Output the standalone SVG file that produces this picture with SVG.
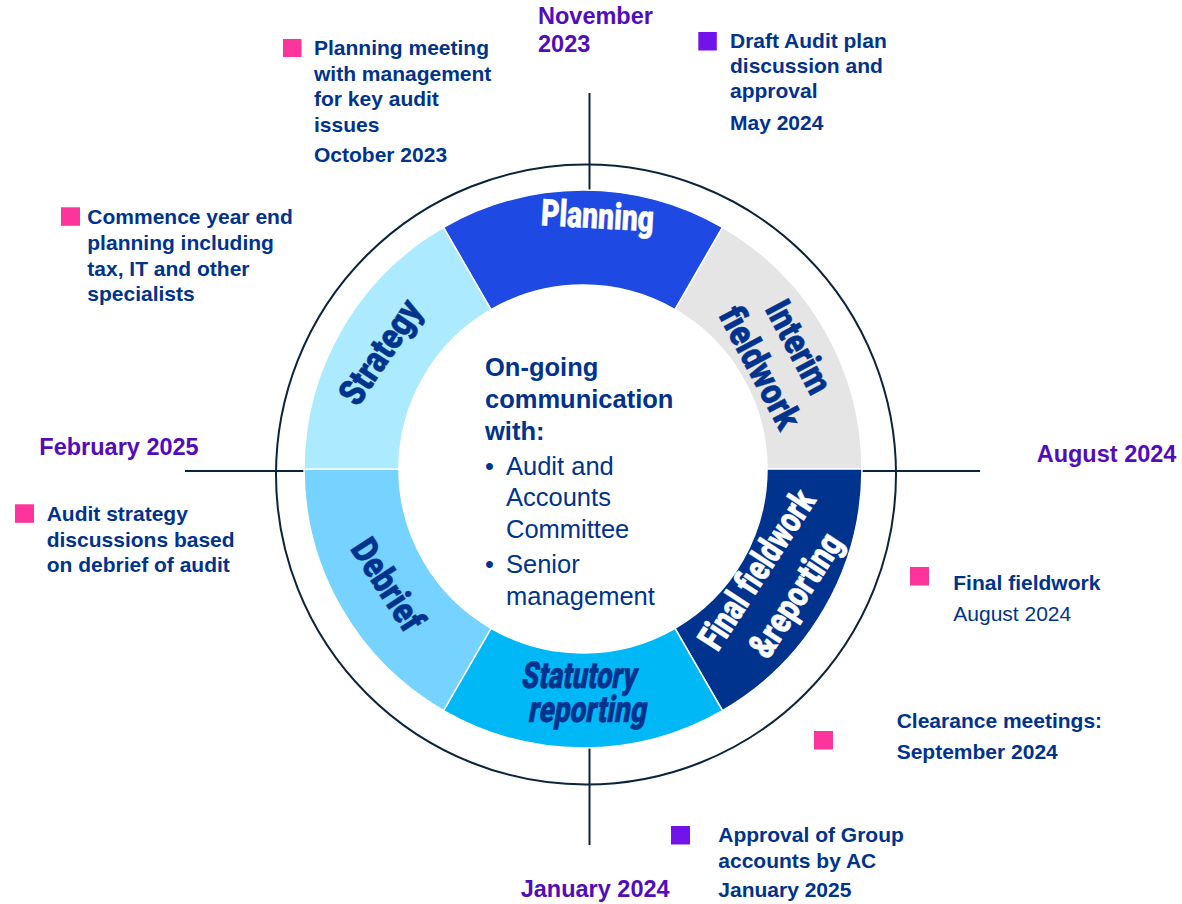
<svg xmlns="http://www.w3.org/2000/svg" width="1182" height="904" viewBox="0 0 1182 904">
  <style>
    .note { font-family: "Liberation Sans", Arial, sans-serif; font-size: 21px; font-weight: bold; fill: #00338D; }
    .note-reg { font-family: "Liberation Sans", Arial, sans-serif; font-size: 21px; fill: #00338D; }
    .date { font-family: "Liberation Sans", Arial, sans-serif; font-size: 23.5px; font-weight: bold; fill: #510DBC; }
    .hub { font-family: "Liberation Sans", Arial, sans-serif; font-size: 25.5px; fill: #00338D; }
    .hub-b { font-weight: bold; }
    .seg-label { font-family: Roboto, "Liberation Sans", sans-serif; font-weight: 900; font-style: normal; font-size: 37px; text-anchor: middle; stroke-width: 0.5; }
    .on-light { fill: #00338D; stroke: #00338D; }
    .on-dark { fill: #FFFFFF; stroke: #FFFFFF; }
    .seg { stroke: #FFFFFF; stroke-width: 1.5; }
    .axis { stroke: #0C233C; stroke-width: 2; fill: none; }
    .pin-pink { fill: #FD349C; }
    .pin-purple { fill: #7213EA; }
  </style>

  <rect width="1182" height="904" fill="#FFFFFF"/>

  <!-- timeline axes and outer ring -->
  <g id="connectors">
    <circle class="axis" cx="586" cy="474.5" r="310"/>
    <line class="axis" x1="589.5" y1="93" x2="589.5" y2="191"/>
    <line class="axis" x1="589.5" y1="747" x2="589.5" y2="845"/>
    <line class="axis" x1="185" y1="471" x2="304" y2="471"/>
    <line class="axis" x1="862" y1="471" x2="980" y2="471"/>
  </g>

  <!-- ring segments, centre (583,469), radii 279 / 184 -->
  <g id="planning">
    <path class="seg" fill="#1E49E2" d="M443.5 227.4 A279 279 0 0 1 722.5 227.4 L675 309.7 A184 184 0 0 0 491 309.7 Z"/>
    <text class="seg-label on-dark" x="583" y="228" textLength="113" lengthAdjust="spacingAndGlyphs" font-size="39" transform="rotate(3.3 583 469)">Planning</text>
  </g>

  <g id="interim-fieldwork">
    <path class="seg" fill="#E5E5E5" d="M722.5 227.4 A279 279 0 0 1 862 469 L767 469 A184 184 0 0 0 675 309.7 Z"/>
    <g transform="translate(778.9 357.5) rotate(62)">
      <text class="seg-label on-light" x="0" y="-10" textLength="100" lengthAdjust="spacingAndGlyphs">Interim</text>
      <text class="seg-label on-light" x="0" y="34" textLength="133" lengthAdjust="spacingAndGlyphs">fieldwork</text>
    </g>
  </g>

  <g id="final-fieldwork">
    <path class="seg" fill="#00338D" d="M862 469 A279 279 0 0 1 722.5 710.6 L675 628.3 A184 184 0 0 0 767 469 Z"/>
    <g transform="translate(777.1 582.9) rotate(-57)">
      <text class="seg-label on-dark" x="0" y="-11.7" textLength="182" lengthAdjust="spacingAndGlyphs">Final fieldwork</text>
      <text class="seg-label on-dark" x="0" y="34.7" textLength="140" lengthAdjust="spacingAndGlyphs">&amp;reporting</text>
    </g>
  </g>

  <g id="statutory-reporting">
    <path class="seg" fill="#00B8F5" d="M722.5 710.6 A279 279 0 0 1 443.5 710.6 L491 628.3 A184 184 0 0 0 675 628.3 Z"/>
    <g transform="translate(584 700) skewX(-10)">
      <text class="seg-label on-light" x="-8" y="-12" font-size="38" textLength="115" lengthAdjust="spacingAndGlyphs">Statutory</text>
      <text class="seg-label on-light" x="6.4" y="21.7" font-size="38" textLength="118" lengthAdjust="spacingAndGlyphs">reporting</text>
    </g>
  </g>

  <g id="debrief">
    <path class="seg" fill="#76D2FF" d="M443.5 710.6 A279 279 0 0 1 304 469 L399 469 A184 184 0 0 0 491 628.3 Z"/>
    <text class="seg-label on-light" x="0" y="12" textLength="102" lengthAdjust="spacingAndGlyphs" transform="translate(387.3 585) rotate(57)">Debrief</text>
  </g>

  <g id="strategy">
    <path class="seg" fill="#ACEAFF" d="M304 469 A279 279 0 0 1 443.5 227.4 L491 309.7 A184 184 0 0 0 399 469 Z"/>
    <text class="seg-label on-light" x="0" y="12" textLength="118" lengthAdjust="spacingAndGlyphs" transform="translate(380.7 352.3) rotate(-56)">Strategy</text>
  </g>

  <!-- hub text -->
  <g id="hub">
    <text class="hub hub-b" x="485" y="376">On-going</text>
    <text class="hub hub-b" x="485" y="408.3">communication</text>
    <text class="hub hub-b" x="485" y="440">with:</text>
    <text class="hub" x="485" y="475">•</text>
    <text class="hub" x="506" y="475">Audit and</text>
    <text class="hub" x="506" y="506">Accounts</text>
    <text class="hub" x="506" y="537.7">Committee</text>
    <text class="hub" x="485" y="573.3">•</text>
    <text class="hub" x="506" y="573.3">Senior</text>
    <text class="hub" x="506" y="605">management</text>
  </g>

  <!-- month labels on the axes -->
  <g id="month-november">
    <text class="date" x="538" y="24">November</text>
    <text class="date" x="538" y="52.3">2023</text>
  </g>
  <g id="month-august"><text class="date" x="1036.7" y="461.7">August 2024</text></g>
  <g id="month-january"><text class="date" x="520.7" y="896.7">January 2024</text></g>
  <g id="month-february"><text class="date" x="39.3" y="455">February 2025</text></g>

  <!-- milestone notes -->
  <g id="note-planning-meeting">
    <rect class="pin-pink" x="283" y="39" width="18.5" height="18"/>
    <text class="note" x="314" y="55">Planning meeting</text>
    <text class="note" x="314" y="80.5">with management</text>
    <text class="note" x="314" y="106">for key audit</text>
    <text class="note" x="314" y="131.5">issues</text>
    <text class="note" x="314" y="161.5">October 2023</text>
  </g>

  <g id="note-draft-plan">
    <rect class="pin-purple" x="698.3" y="32" width="18.5" height="18.5"/>
    <text class="note" x="730" y="48.3">Draft Audit plan</text>
    <text class="note" x="730" y="73.3">discussion and</text>
    <text class="note" x="730" y="98.3">approval</text>
    <text class="note" x="730" y="130">May 2024</text>
  </g>

  <g id="note-year-end">
    <rect class="pin-pink" x="61" y="207.3" width="19" height="18.5"/>
    <text class="note" x="87.3" y="224.3">Commence year end</text>
    <text class="note" x="87.3" y="250">planning including</text>
    <text class="note" x="87.3" y="276">tax, IT and other</text>
    <text class="note" x="87.3" y="301">specialists</text>
  </g>

  <g id="note-strategy-discussions">
    <rect class="pin-pink" x="15" y="504.3" width="19" height="18.5"/>
    <text class="note" x="46.7" y="521">Audit strategy</text>
    <text class="note" x="46.7" y="546.7">discussions based</text>
    <text class="note" x="46.7" y="571.7">on debrief of audit</text>
  </g>

  <g id="note-final-fieldwork">
    <rect class="pin-pink" x="910" y="567" width="19" height="18.5"/>
    <text class="note" x="953.3" y="590">Final fieldwork</text>
    <text class="note-reg" x="953.3" y="620.7">August 2024</text>
  </g>

  <g id="note-clearance">
    <rect class="pin-pink" x="814" y="731" width="19" height="18.5"/>
    <text class="note" x="896.7" y="728.3">Clearance meetings:</text>
    <text class="note" x="896.7" y="759.3">September 2024</text>
  </g>

  <g id="note-group-accounts">
    <rect class="pin-purple" x="671" y="826" width="19" height="18.5"/>
    <text class="note" x="718.3" y="841.7">Approval of Group</text>
    <text class="note" x="718.3" y="867.7">accounts by AC</text>
    <text class="note" x="718.3" y="896.7">January 2025</text>
  </g>
</svg>
